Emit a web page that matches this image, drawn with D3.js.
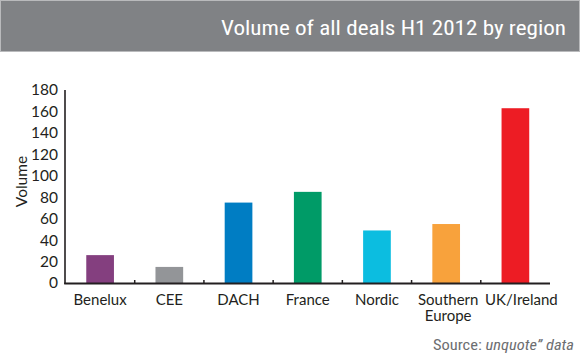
<!DOCTYPE html>
<html><head><meta charset="utf-8">
<script src="https://cdn.jsdelivr.net/npm/d3@7"></script>
<style>body{margin:0;background:#fff}svg{display:block}</style>
</head><body>
<script>
const categories = ["Benelux","CEE","DACH","France","Nordic","Southern Europe","UK/Ireland"];
const labelLines = [["Benelux"],["CEE"],["DACH"],["France"],["Nordic"],["Southern","Europe"],["UK/Ireland"]];
const labelShift = [0,0,0,0,0,2,6];
const values = [26,15,75,85,49,55,163];
const colors = ["#843f7f","#939598","#007dc3","#009b67","#0cbde0","#f8a23c","#ed1c24"];
const yTicks = [0,20,40,60,80,100,120,140,160,180];
const title = "Volume of all deals H1 2012 by region";
const yLabel = "Volume";

const W=580,H=358;
const svg=d3.select("body").append("svg").attr("width",W).attr("height",H);
const labelFont="'Lato','Open Sans',sans-serif";
const condFont="'Liberation Sans Narrow','Roboto Condensed','DejaVu Sans Condensed',sans-serif";

// header
svg.append("rect").attr("x",0.5).attr("y",0.5).attr("width",W-1).attr("height",51)
  .attr("fill","#808285").attr("stroke","#b9babc").attr("stroke-width",1);
svg.append("text").attr("x",566).attr("y",35).attr("text-anchor","end")
  .attr("font-family",condFont).attr("font-size",20).attr("fill","#fff")
  .attr("textLength",345).attr("lengthAdjust","spacingAndGlyphs").text(title);

const x=d3.scaleBand().domain(categories).range([65.5,550]).paddingInner(0.6).paddingOuter(0.3);
const y=d3.scaleLinear().domain([0,180]).range([283,90]);

// bars
svg.append("g").selectAll("rect").data(categories).join("rect")
  .attr("x",d=>x(d)).attr("width",x.bandwidth())
  .attr("y",(d,i)=>y(values[i])).attr("height",(d,i)=>y(0)-y(values[i]))
  .attr("fill",(d,i)=>colors[i]);

// y axis
const ya=svg.append("g").attr("transform","translate(65,0)")
  .call(d3.axisLeft(y).tickValues(yTicks).tickSize(0).tickPadding(7));
ya.select(".domain").remove();
ya.selectAll("text").attr("font-family",labelFont).attr("font-size",15.5).attr("fill","#231f20");
svg.append("line").attr("x1",65).attr("x2",65).attr("y1",90).attr("y2",284)
  .attr("stroke","#231f20").attr("stroke-width",1.6);

// x axis
svg.append("line").attr("x1",64.2).attr("x2",550).attr("y1",283.6).attr("y2",283.6)
  .attr("stroke","#231f20").attr("stroke-width",2);
const step=x.step();
const bounds=categories.slice(1).map(d=>x(d)-(step-x.bandwidth())/2);
svg.append("g").selectAll("line").data(bounds).join("line")
  .attr("x1",d=>d).attr("x2",d=>d).attr("y1",280).attr("y2",284)
  .attr("stroke","#231f20").attr("stroke-width",1.5);

const xl=svg.append("g").selectAll("text").data(categories).join("text")
  .attr("y",304.5).attr("text-anchor","middle")
  .attr("font-family",labelFont).attr("font-size",15).attr("fill","#231f20");
xl.each(function(d,i){
  const t=d3.select(this);
  const cx=x(d)+x.bandwidth()/2+labelShift[i];
  labelLines[i].forEach((l,j)=>t.append("tspan").attr("x",cx).attr("dy",j?16.5:0).text(l));
});

svg.append("text").attr("transform","translate(27,181.5) rotate(-90)").attr("text-anchor","middle")
  .attr("font-family",labelFont).attr("font-size",15.5).attr("fill","#231f20").text(yLabel);

// source
const src=svg.append("text").attr("x",574).attr("y",350).attr("text-anchor","end")
  .attr("font-family",condFont).attr("font-size",14).attr("fill","#6d6e71")
  .attr("textLength",141).attr("lengthAdjust","spacingAndGlyphs");
src.append("tspan").text("Source: ");
src.append("tspan").attr("font-style","italic").text("unquote\u201D data");
</script>
</body></html>
